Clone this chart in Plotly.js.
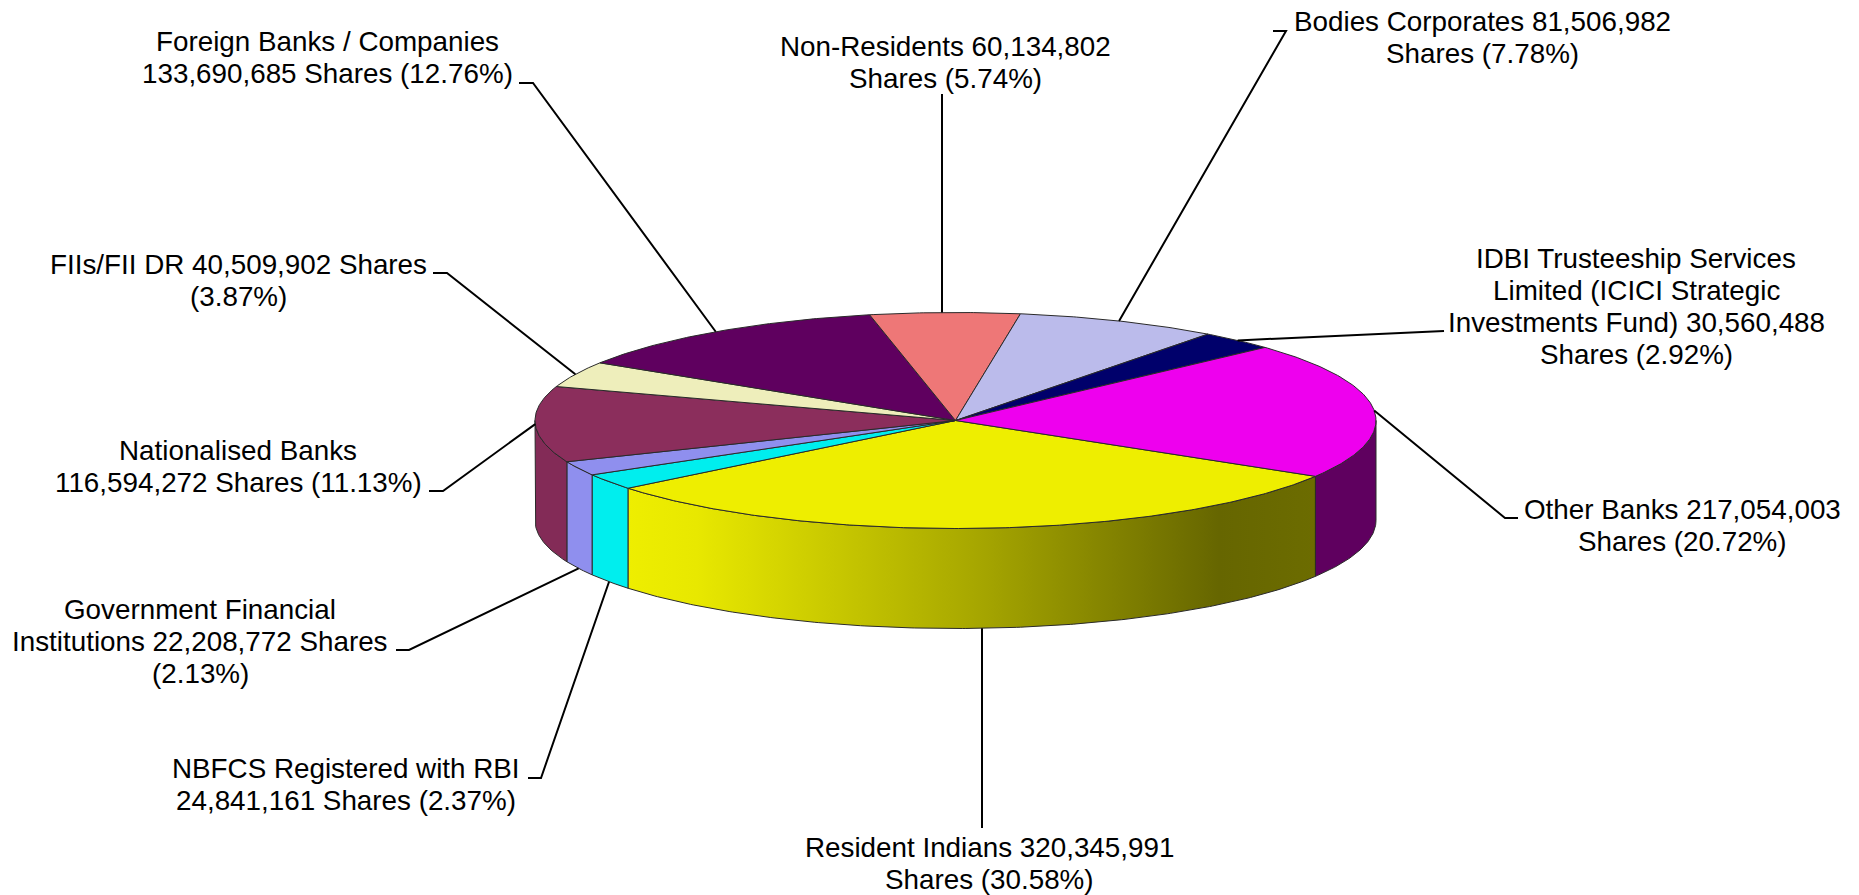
<!DOCTYPE html>
<html>
<head>
<meta charset="utf-8">
<script src="https://cdn.plot.ly/plotly-3.0.1.min.js"></script>
<style>html,body{margin:0;padding:0;background:#fff}#chart{width:1859px;height:895px}</style>
</head>
<body>
<div id="chart"></div>
<script>
// ---- data, in clockwise drawing order ----
const categories = ["Resident Indians","NBFCS Registered with RBI","Government Financial Institutions","Nationalised Banks","FIIs/FII DR","Foreign Banks / Companies","Non-Residents","Bodies Corporates","IDBI Trusteeship Services Limited (ICICI Strategic Investments Fund)","Other Banks"];
const shares = [320345991,24841161,22208772,116594272,40509902,133690685,60134802,81506982,30560488,217054003];
const labels = [
 "Resident Indians 320,345,991<br>Shares (30.58%)",
 "NBFCS Registered with RBI<br>24,841,161 Shares (2.37%)",
 "Government Financial<br>Institutions 22,208,772 Shares<br>(2.13%)",
 "Nationalised Banks<br>116,594,272 Shares (11.13%)",
 "FIIs/FII DR 40,509,902 Shares<br>(3.87%)",
 "Foreign Banks / Companies<br>133,690,685 Shares (12.76%)",
 "Non-Residents 60,134,802<br>Shares (5.74%)",
 "Bodies Corporates 81,506,982<br>Shares (7.78%)",
 "IDBI Trusteeship Services<br>Limited (ICICI Strategic<br>Investments Fund) 30,560,488<br>Shares (2.92%)",
 "Other Banks 217,054,003<br>Shares (20.72%)"
];
const topColors = ["#EEEE00","#00EEEE","#8F8FEE","#8B2E5C","#EEEEBB","#5F005F","#EE7777","#BBBBEB","#00006B","#EE00EE"];
const wallColors = ["#EEEE00","#00EEEE","#8F8FEE","#832B57","#EEEEBB","#5F005F","#EE7777","#BBBBEB","#00006B","#5F005F"];
const residentWallScale = [[0,"#EEEE00"],[0.1,"#E8E800"],[0.5,"#A8A800"],[0.86,"#666600"],[1,"#6C6C00"]];

// ---- layout of the drawing (pixel-scaled axes) ----
const cx = 955.5, cy = 420.5, rx = 420.5, ry = 108, depth = 100, startAngle = 32, frontTurn = 1.2;
const lineStep = 32, fontSize = 27.8;
const labelX = [989,346,200,238,238,327,945,1482,1636,1682];
const labelY = [863,784,641,466,280,57.5,62,37,306,525];
const leaderX = [[982],[528,541],[396,409],[429,443],[433,447],[519,533],[942],[1273,1286],[1444],[1518,1505]];
const leaderY = [[828],[778,778],[650,650],[491,491],[273,273],[83,83],[94],[31,31],[331],[518,518]];
const leaderVertical = [true,false,false,false,false,false,true,false,false,false];

const total = shares.reduce((a,b)=>a+b,0);
const rad = d => d*Math.PI/180;
// the view's perspective turns the front half of the rim very slightly
const warp = a => { const s=Math.sin(rad(a)); return s>0 ? a-frontTurn*Math.sqrt(s) : a; };
const px = a => cx + rx*Math.cos(rad(warp(a)));
const py = a => cy + ry*Math.sin(rad(warp(a)));
function arc(a1,a2){ const out=[]; const n=Math.max(2,Math.ceil((a2-a1)/0.5)); for(let i=0;i<=n;i++) out.push(a1+(a2-a1)*i/n); return out; }

const spans=[]; let run=startAngle;
shares.forEach(v=>{ const s=v/total*360; spans.push([run,run+s]); run+=s; });

const traces=[];
const edge={color:"#2a2a2a",width:1};
// side walls: only the front half of the rim is visible
spans.forEach((sp,i)=>{
  [[sp[0],sp[1]],[sp[0]-360,sp[1]-360]].forEach(([a,b])=>{
    const lo=Math.max(a,0), hi=Math.min(b,180);
    if(hi<=lo) return;
    const t=arc(lo,hi), xs=t.map(px), ys=t.map(py);
    const x=xs.concat(xs.slice().reverse(),[xs[0]]);
    const y=ys.concat(ys.slice().reverse().map(v=>v+depth),[ys[0]]);
    const tr={type:"scatter",mode:"lines",x,y,fill:"toself",fillcolor:wallColors[i],line:edge,name:categories[i],hoverinfo:"name",showlegend:false};
    if(i===0) tr.fillgradient={type:"horizontal",colorscale:residentWallScale};
    traces.push(tr);
  });
});
// top surface
spans.forEach((sp,i)=>{
  const t=arc(sp[0],sp[1]);
  traces.push({type:"scatter",mode:"lines",x:[cx].concat(t.map(px),[cx]),y:[cy].concat(t.map(py),[cy]),fill:"toself",fillcolor:topColors[i],line:edge,name:categories[i],hoverinfo:"name",showlegend:false});
});
// leader lines: each ends at the middle of its slice's rim
spans.forEach((sp,i)=>{
  const m=(sp[0]+sp[1])/2, front=Math.sin(rad(m))>0 && m>60 && m<170;
  const endX=leaderVertical[i]?leaderX[i][0]:px(m);
  traces.push({type:"scatter",mode:"lines",x:leaderX[i].concat([endX]),y:leaderY[i].concat([py(m)+(front?depth:0)]),line:{color:"#000",width:2},hoverinfo:"skip",showlegend:false});
});

// one annotation per text line, to hold the reference's line spacing
const annotations=[];
labels.forEach((text,i)=>{
  const lines=text.split("<br>");
  lines.forEach((line,k)=>annotations.push({text:line,x:labelX[i],y:labelY[i]+(k-(lines.length-1)/2)*lineStep,xref:"x",yref:"y",xanchor:"center",yanchor:"middle",showarrow:false,align:"center",font:{family:"Liberation Sans, Arial, sans-serif",size:fontSize,color:"#000"}}));
});

Plotly.newPlot("chart",traces,{
  width:1859,height:895,margin:{l:0,r:0,t:0,b:0},paper_bgcolor:"#fff",plot_bgcolor:"#fff",showlegend:false,
  xaxis:{range:[0,1859],visible:false,fixedrange:true},
  yaxis:{range:[895,0],visible:false,fixedrange:true},
  annotations
},{displayModeBar:false,staticPlot:true});
</script>
</body>
</html>
